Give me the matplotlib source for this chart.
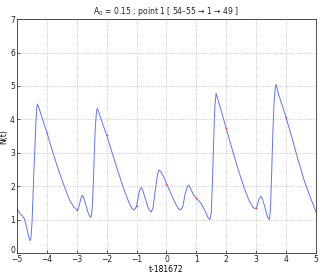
import numpy as np
import matplotlib.pyplot as plt
import matplotlib.transforms as mtransforms

# curve (t relative to 181672, N(t))
t_vals = [-5.0, -4.9, -4.82, -4.75, -4.7, -4.65, -4.6, -4.57, -4.54, -4.5, -4.47, -4.44, -4.4,
          -4.37, -4.34, -4.32, -4.28, -4.2, -4.1, -4.0, -3.8, -3.6, -3.4, -3.25, -3.1, -3.0,
          -2.95, -2.9, -2.85, -2.82, -2.78, -2.7, -2.62, -2.55, -2.52, -2.48, -2.44, -2.41,
          -2.38, -2.34, -2.31, -2.26, -2.15, -2.0, -1.8, -1.6, -1.4, -1.25, -1.15, -1.09,
          -1.04, -1.0, -0.95, -0.9, -0.85, -0.8, -0.7, -0.6, -0.51, -0.45, -0.38, -0.3,
          -0.26, -0.2, -0.1, 0.0, 0.1, 0.2, 0.3, 0.4, 0.48, 0.55, 0.62, 0.7, 0.75, 0.82,
          0.9, 1.0, 1.1, 1.2, 1.3, 1.38, 1.45, 1.5, 1.54, 1.58, 1.62, 1.66, 1.72, 1.85,
          2.0, 2.2, 2.4, 2.6, 2.75, 2.88, 2.96, 3.0, 3.05, 3.1, 3.16, 3.22, 3.3, 3.38,
          3.44, 3.48, 3.52, 3.56, 3.6, 3.64, 3.67, 3.75, 3.9, 4.0, 4.2, 4.4, 4.6, 4.8, 5.0]
n_vals = [1.33, 1.18, 1.11, 1.02, 0.85, 0.65, 0.45, 0.37, 0.42, 0.9, 1.6, 2.4, 3.2,
          3.9, 4.35, 4.46, 4.38, 4.15, 3.88, 3.6, 3.0, 2.45, 1.95, 1.6, 1.38, 1.29,
          1.32, 1.5, 1.68, 1.73, 1.68, 1.45, 1.2, 1.07, 1.08, 1.4, 2.3, 3.1,
          3.8, 4.25, 4.33, 4.2, 3.9, 3.53, 2.95, 2.38, 1.85, 1.5, 1.33, 1.29,
          1.33, 1.41, 1.65, 1.88, 1.96, 1.9, 1.6, 1.32, 1.23, 1.35, 1.85, 2.35,
          2.48, 2.45, 2.3, 2.08, 1.88, 1.68, 1.48, 1.33, 1.29, 1.4, 1.75, 2.0, 2.03, 1.9,
          1.75, 1.64, 1.55, 1.42, 1.25, 1.08, 1.0, 1.2, 2.2, 3.4, 4.4, 4.78, 4.6, 4.2,
          3.73, 3.1, 2.5, 1.95, 1.6, 1.38, 1.33, 1.35, 1.45, 1.62, 1.7, 1.6, 1.35, 1.08,
          1.0, 1.3, 2.4, 3.6, 4.5, 4.95, 5.05, 4.75, 4.35, 4.06, 3.45, 2.8, 2.2, 1.7, 1.24]

# sample points marked in red
pt_t = [-4, -3, -2, -1, 0, 1, 2, 3, 4, 5]
pt_n = [3.6, 1.28, 3.53, 1.41, 2.08, 1.64, 3.73, 1.35, 4.06, 1.24]

plt.rcParams['font.size'] = 5.5
fig, ax = plt.subplots(figsize=(3.22, 2.73), dpi=100)
fig.subplots_adjust(left=0.053, right=0.981, top=0.930, bottom=0.073)

ax.plot(t_vals, n_vals, color='#5f72ff', lw=0.7)
ax.plot(pt_t, pt_n, 'o', color='#ff3030', ms=1.2, mew=0)

ax.set_xlim(-5, 5)
ax.set_ylim(0, 7)
ax.set_xticks(np.arange(-5, 6))
ax.set_yticks(np.arange(0, 8))
ax.grid(True, linestyle=':', color='#b8b8b8', lw=0.6)
ax.tick_params(direction='in', length=2.5, width=0.5, colors='#222222')
ax.tick_params(axis='x', pad=1.5)
ax.tick_params(axis='y', pad=1.5)
for s in ax.spines.values():
    s.set_linewidth(0.6)
    s.set_color('#333333')

# nudge the "0" label up a bit so it clears the "-5" below it
lab0 = ax.get_yticklabels()[0]
lab0.set_transform(lab0.get_transform() +
                   mtransforms.ScaledTranslation(0, 2.5 / 72, fig.dpi_scale_trans))

ax.set_xlabel('t-181672', labelpad=0.5)
ax.set_ylabel('N(t)', labelpad=1)
ax.set_title('A$_0$ = 0.15 ; point 1 [ 54\u201355 \u2192 1 \u2192 49 ]', fontsize=5.5, pad=4,
             color='#222222')

plt.savefig('out.png', dpi=100)
